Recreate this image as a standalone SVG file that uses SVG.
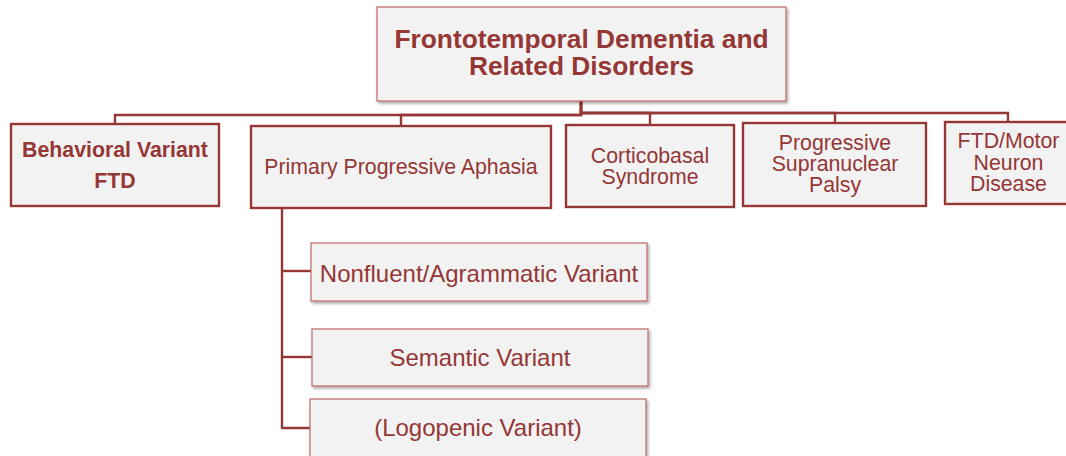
<svg xmlns="http://www.w3.org/2000/svg" width="1066" height="456" viewBox="0 0 1066 456">
  <defs>
    <filter id="shadow" x="-5%" y="-10%" width="115%" height="130%">
      <feDropShadow dx="1.5" dy="2" stdDeviation="1.5" flood-color="#000" flood-opacity="0.35"/>
    </filter>
  </defs>
  <style>
    text { font-family: "Liberation Sans", Arial, sans-serif; fill: #953735; text-anchor: middle; }
    .thick { fill: #f2f2f2; stroke: #953735; stroke-width: 2.4; }
    .thin { fill: #f2f2f2; stroke: #bf6a68; stroke-width: 1.2; filter: url(#shadow); }
    .bold { font-weight: bold; }
    .l1 { font-size: 21.3px; }
    .l2 { font-size: 24px; }
    .title { font-size: 26.3px; font-weight: bold; }
    .conn { fill: none; stroke: #953735; stroke-width: 2.4; }
  </style>
  <rect width="1066" height="456" fill="#ffffff"/>

  <g id="connectors">
    <path class="conn" d="M581,101 V115 H115 V124"/>
    <path class="conn" d="M581,101 V115 H401 V126"/>
    <path class="conn" d="M581,101 V113 H650 V125"/>
    <path class="conn" d="M581,101 V113 H835 V123"/>
    <path class="conn" d="M581,101 V113 H1008 V122"/>
    <path class="conn" d="M282,208 V428 H310"/>
    <path class="conn" d="M282,271 H311"/>
    <path class="conn" d="M282,357 H312"/>
  </g>

  <g id="root">
    <rect class="thin" x="377" y="7" width="409" height="94"/>
    <text class="title"><tspan x="581.5" y="48">Frontotemporal Dementia and</tspan><tspan x="581.5" y="75">Related Disorders</tspan></text>
  </g>

  <g id="bvftd">
    <rect class="thick" x="11" y="124" width="208" height="82"/>
    <text class="l1 bold"><tspan x="115" y="157">Behavioral Variant</tspan><tspan x="115" y="187.5">FTD</tspan></text>
  </g>

  <g id="ppa">
    <rect class="thick" x="251" y="126" width="300" height="82"/>
    <text class="l1" x="401" y="174">Primary Progressive Aphasia</text>
  </g>

  <g id="cbs">
    <rect class="thick" x="566" y="125" width="168" height="82"/>
    <text class="l1"><tspan x="650" y="162.5">Corticobasal</tspan><tspan x="650" y="184">Syndrome</tspan></text>
  </g>

  <g id="psp">
    <rect class="thick" x="743" y="123" width="183" height="83"/>
    <text class="l1"><tspan x="835" y="149.5">Progressive</tspan><tspan x="835" y="171">Supranuclear</tspan><tspan x="835" y="192">Palsy</tspan></text>
  </g>

  <g id="ftdmnd">
    <rect class="thick" x="945" y="122" width="126" height="82"/>
    <text class="l1"><tspan x="1008.5" y="147.5">FTD/Motor</tspan><tspan x="1008.5" y="169.5">Neuron</tspan><tspan x="1008.5" y="191">Disease</tspan></text>
  </g>

  <g id="nfvppa">
    <rect class="thin" x="311" y="243" width="336" height="58"/>
    <text class="l2" x="479" y="281.5">Nonfluent/Agrammatic Variant</text>
  </g>

  <g id="svppa">
    <rect class="thin" x="312" y="329" width="336" height="57"/>
    <text class="l2" x="480" y="365.5">Semantic Variant</text>
  </g>

  <g id="lvppa">
    <rect class="thin" x="310" y="399" width="336" height="70"/>
    <text class="l2" x="478" y="435.5">(Logopenic Variant)</text>
  </g>
</svg>
